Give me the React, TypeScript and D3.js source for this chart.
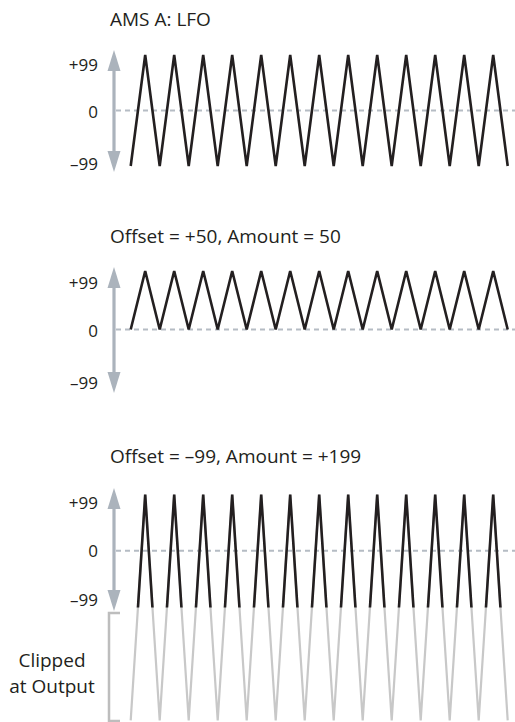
import React from "react";
import * as d3 from "d3";

// Vertex index along the time axis (13 cycles of the LFO)
const steps = [0, 1, 2, 3, 4, 5, 6, 7, 8, 9, 10, 11, 12, 13, 14, 15, 16, 17, 18, 19, 20, 21, 22, 23, 24, 25, 26];

// Panel 1: raw LFO (AMS A)
const lfoValues = [-99, 99, -99, 99, -99, 99, -99, 99, -99, 99, -99, 99, -99, 99, -99, 99, -99, 99, -99, 99, -99, 99, -99, 99, -99, 99, -99];
// Panel 2: Offset = +50, Amount = 50
const offsetPlus50Values = [0, 99, 0, 99, 0, 99, 0, 99, 0, 99, 0, 99, 0, 99, 0, 99, 0, 99, 0, 99, 0, 99, 0, 99, 0, 99, 0];
// Panel 3: Offset = -99, Amount = +199 (unclipped)
const offsetMinus99Values = [-296, 98, -296, 98, -296, 98, -296, 98, -296, 98, -296, 98, -296, 98, -296, 98, -296, 98, -296, 98, -296, 98, -296, 98, -296, 98, -296];

const tickValues = [99, 0, -99];
const tickLabels = ["+99", "0", "\u201399"];

const titles = ["AMS A: LFO", "Offset = +50, Amount = 50", "Offset = \u201399, Amount = +199"];
const clipLabel = ["Clipped", "at Output"];

const W = 515;
const H = 722;
const FONT = "'Open Sans', sans-serif";
const BLACK = "#231f20";
const AXIS_GRAY = "#abb3bc";
const DASH_GRAY = "#b5bcc4";
const CLIP_GRAY = "#c8c8c8";

const x = d3.scaleLinear().domain([0, 26]).range([130.7, 507.7]);

type PanelSpec = {
  title: string;
  titleY: number;
  values: number[];
  y: d3.ScaleLinear<number, number>;
  labelY: number[];
  arrowTop: number;
  arrowBottom: number;
  clip?: boolean;
};

const panels: PanelSpec[] = [
  {
    title: titles[0],
    titleY: 26,
    values: lfoValues,
    y: d3.scaleLinear().domain([-99, 99]).range([166, 55]),
    labelY: [70.5, 118, 170],
    arrowTop: 50,
    arrowBottom: 172,
  },
  {
    title: titles[1],
    titleY: 243,
    values: offsetPlus50Values,
    y: d3.scaleLinear().domain([-99, 99]).range([388, 271]),
    labelY: [289, 336.5, 389],
    arrowTop: 267,
    arrowBottom: 393,
  },
  {
    title: titles[2],
    titleY: 462.5,
    values: offsetMinus99Values,
    y: d3.scaleLinear().domain([-99, 99]).range([607.5, 494]),
    labelY: [509, 556.5, 605.5],
    arrowTop: 488,
    arrowBottom: 611,
    clip: true,
  },
];

function Arrow({ cx, top, bottom }: { cx: number; top: number; bottom: number }) {
  const headH = 21;
  const headW = 13;
  return (
    <g fill={AXIS_GRAY}>
      <line x1={cx} x2={cx} y1={top + headH - 2} y2={bottom - headH + 2} stroke={AXIS_GRAY} strokeWidth={3.2} />
      <path d={`M${cx},${top} L${cx + headW / 2},${top + headH} L${cx - headW / 2},${top + headH} Z`} />
      <path d={`M${cx},${bottom} L${cx + headW / 2},${bottom - headH} L${cx - headW / 2},${bottom - headH} Z`} />
    </g>
  );
}

function Panel({ p, idx }: { p: PanelSpec; idx: number }) {
  const line = d3
    .line<number>()
    .x((_, i) => x(steps[i]))
    .y((v) => p.y(v));
  const d = line(p.values) || "";
  const clipId = `clip-above-${idx}`;
  const zeroY = p.y(0);
  return (
    <g>
      <text x={110} y={p.titleY} fontFamily={FONT} fontSize={19} fill={BLACK}>
        {p.title}
      </text>
      {tickValues.map((t, i) => (
        <text key={t} x={98} y={p.labelY[i]} textAnchor="end" fontFamily={FONT} fontSize={17} fill={BLACK}>
          {tickLabels[i]}
        </text>
      ))}
      <line x1={116} x2={W} y1={zeroY} y2={zeroY} stroke={DASH_GRAY} strokeWidth={2} strokeDasharray="5,4" />
      <Arrow cx={114} top={p.arrowTop} bottom={p.arrowBottom} />
      {p.clip ? (
        <>
          <defs>
            <clipPath id={clipId}>
              <rect x={0} y={0} width={W} height={p.y(-99)} />
            </clipPath>
          </defs>
          <path d={d} fill="none" stroke={CLIP_GRAY} strokeWidth={2.2} strokeLinejoin="miter" />
          <path d={d} fill="none" stroke={BLACK} strokeWidth={2.6} strokeLinejoin="miter" clipPath={`url(#${clipId})`} />
        </>
      ) : (
        <path d={d} fill="none" stroke={BLACK} strokeWidth={2.6} strokeLinejoin="miter" />
      )}
    </g>
  );
}

export default function App() {
  const p3 = panels[2];
  const bracketTop = p3.y(-99) + 5.5;
  const bracketBottom = 721;
  return (
    <svg width={W} height={H} style={{ position: "absolute", left: 0, top: 0, background: "#fff" }}>
      {panels.map((p, i) => (
        <Panel key={i} p={p} idx={i} />
      ))}
      <path
        d={`M120,${bracketTop} L109,${bracketTop} L109,${bracketBottom} L120,${bracketBottom}`}
        fill="none"
        stroke="#bdbdbd"
        strokeWidth={2.5}
      />
      {clipLabel.map((t, i) => (
        <text key={t} x={52} y={667 + i * 26} textAnchor="middle" fontFamily={FONT} fontSize={19} fill={BLACK}>
          {t}
        </text>
      ))}
    </svg>
  );
}
